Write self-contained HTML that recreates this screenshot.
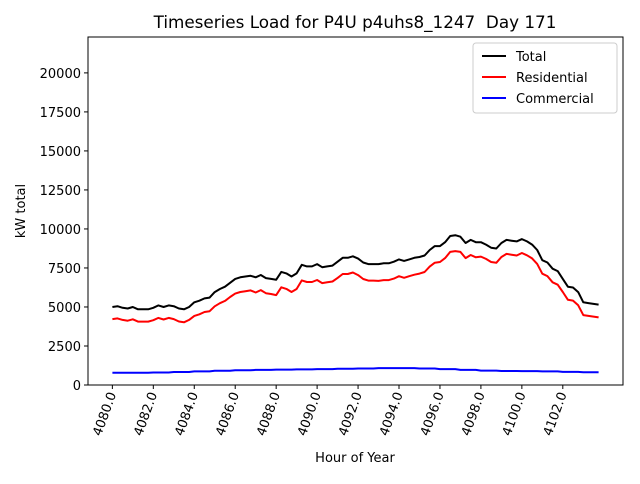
<!DOCTYPE html>
<html><head><meta charset="utf-8"><style>
body{margin:0;background:#fff;font-family:"DejaVu Sans","Liberation Sans",sans-serif}
svg text{font-family:"DejaVu Sans","Liberation Sans",sans-serif}
</style></head><body>
<svg id="chart" width="640" height="480" xmlns="http://www.w3.org/2000/svg">
<rect width="640" height="480" fill="#fff"/>
<text x="355" y="28" font-size="16.8" text-anchor="middle" xml:space="preserve">Timeseries Load for P4U p4uhs8_1247  Day 171</text>
<g id="plot"></g>
<rect x="88" y="37" width="535" height="348" fill="none" stroke="#000" stroke-width="1"/>
<text transform="translate(25,211) rotate(-90)" font-size="13" text-anchor="middle">kW total</text>
<text x="355" y="462" font-size="13" text-anchor="middle">Hour of Year</text>
<g>
<rect x="473" y="43" width="144" height="70" fill="#fff" stroke="#ccc" rx="3"/>
<line x1="482" y1="56" x2="506" y2="56" stroke="#000" stroke-width="2"/>
<text x="516" y="61" font-size="13">Total</text>
<line x1="482" y1="77" x2="506" y2="77" stroke="#f00" stroke-width="2"/>
<text x="516" y="82" font-size="13">Residential</text>
<line x1="482" y1="98" x2="506" y2="98" stroke="#00f" stroke-width="2"/>
<text x="516" y="103" font-size="13">Commercial</text>
</g>
</svg>
<script>
const startHour = 4080;
const stepHours = 0.25;
const total = [5000,5050,4950,4900,5000,4850,4850,4850,4950,5100,5000,5100,5050,4900,4850,5000,5300,5400,5550,5600,5950,6150,6300,6550,6800,6900,6950,7000,6900,7050,6850,6800,6750,7250,7150,6950,7150,7700,7600,7600,7750,7550,7600,7650,7900,8150,8150,8250,8100,7850,7750,7750,7750,7800,7800,7900,8050,7950,8050,8150,8200,8300,8650,8900,8900,9150,9550,9600,9500,9100,9300,9150,9150,9000,8800,8750,9100,9300,9250,9200,9350,9200,9000,8650,8000,7850,7450,7300,6800,6300,6250,5950,5300,5250,5200,5150];
const residential = [4220,4270,4170,4120,4210,4060,4060,4060,4150,4300,4200,4300,4220,4070,4020,4170,4430,4530,4680,4730,5040,5240,5390,5640,5860,5960,6010,6060,5930,6080,5880,5830,5760,6260,6160,5960,6150,6700,6600,6600,6730,6530,6580,6630,6860,7110,7110,7210,7040,6790,6690,6690,6670,6720,6720,6820,6970,6870,6970,7070,7140,7240,7590,7840,7880,8130,8530,8580,8530,8130,8330,8180,8230,8080,7880,7830,8200,8400,8350,8300,8460,8310,8110,7760,7130,6980,6580,6430,5960,5460,5410,5110,4480,4430,4380,4330];
const commercial = [780,780,780,780,790,790,790,790,800,800,800,800,830,830,830,830,870,870,870,870,910,910,910,910,940,940,940,940,970,970,970,970,990,990,990,990,1000,1000,1000,1000,1020,1020,1020,1020,1040,1040,1040,1040,1060,1060,1060,1060,1080,1080,1080,1080,1080,1080,1080,1080,1060,1060,1060,1060,1020,1020,1020,1020,970,970,970,970,920,920,920,920,900,900,900,900,890,890,890,890,870,870,870,870,840,840,840,840,820,820,820,820];
const yTicks = [0,2500,5000,7500,10000,12500,15000,17500,20000];
const xTicks = [4080,4082,4084,4086,4088,4090,4092,4094,4096,4098,4100,4102];

const X0=88,X1=623,Y0=385,Y1=37;
const xMin=4078.81,xMax=4104.94,yMin=0,yMax=22300;
const xs=h=>X0+(h-xMin)/(xMax-xMin)*(X1-X0);
const ys=v=>Y0-(v-yMin)/(yMax-yMin)*(Y0-Y1);
const NS="http://www.w3.org/2000/svg";
const g=document.getElementById('plot');
function mk(t,a){const e=document.createElementNS(NS,t);for(const k in a)e.setAttribute(k,a[k]);g.appendChild(e);return e;}
yTicks.forEach(v=>{
  const y=ys(v);
  const l=mk('line',{x1:X0-4,x2:X0,y1:y,y2:y,stroke:'#000'});
  
  
  const t=mk('text',{x:X0-7,y:y+5,'font-size':13,'text-anchor':'end'});
  t.textContent=String(v);
  
  
});
xTicks.forEach(h=>{
  const x=xs(h);
  const l=mk('line',{x1:x,x2:x,y1:Y0,y2:Y0+4,stroke:'#000'});
  
  
  const t=mk('text',{transform:`translate(${x+4},${Y0+9}) rotate(-70)`,'font-size':13,'text-anchor':'end'});
  t.textContent=h.toFixed(1);
  
  
});
function series(arr,color,name){
  const pts=arr.map((v,i)=>xs(startHour+i*stepHours).toFixed(1)+','+ys(v).toFixed(1)).join(' ');
  const p=mk('polyline',{points:pts,fill:'none',stroke:color,'stroke-width':2,'stroke-linejoin':'round'});
  
  
}
series(total,'#000','total-line');
series(residential,'#f00','residential-line');
series(commercial,'#00f','commercial-line');
</script>
</body></html>
